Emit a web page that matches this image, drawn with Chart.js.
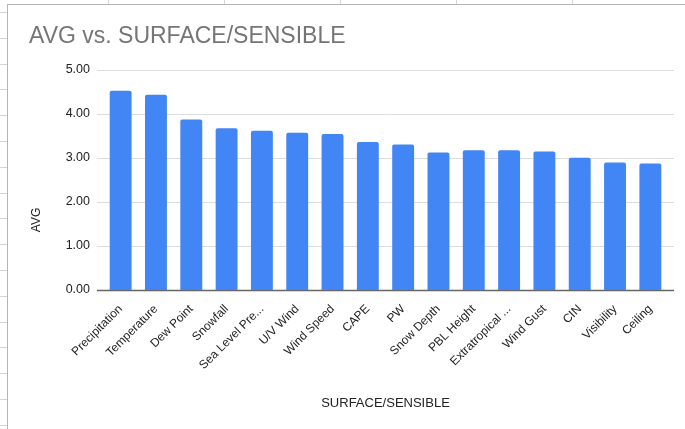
<!DOCTYPE html>
<html>
<head>
<meta charset="utf-8">
<script src="https://cdn.jsdelivr.net/npm/chart.js@4/dist/chart.umd.min.js"></script>
<style>
  html, body { margin: 0; padding: 0; background: #fff; }
  body { width: 685px; height: 429px; position: relative; overflow: hidden; }
  /* spreadsheet cells peeking out round the chart box */
  .cols { position: absolute; left: 0; top: 0; width: 685px; height: 4px;
    background: repeating-linear-gradient(to right, transparent 0 108px, #d4d4d4 108px 109px, transparent 109px 116px);
    background-position: 0 0; }
  .rows { position: absolute; left: 0; top: 4px; width: 7px; height: 425px;
    background: repeating-linear-gradient(to bottom, transparent 0 8px, #d4d4d4 8px 9px, transparent 9px 25.8px); }
  .box { position: absolute; left: 7px; top: 4px; width: 678px; height: 425px;
    border-left: 1px solid #b5b5b5; border-top: 1px solid #b5b5b5; background: #fff; }
  #chart { position: absolute; left: 0; top: 0; }
</style>
</head>
<body>
<div class="cols"></div>
<div class="rows"></div>
<div class="box"></div>
<canvas id="chart" width="685" height="429"></canvas>
<script>
const categories = ['Precipitation', 'Temperature', 'Dew Point', 'Snowfall', 'Sea Level Pre...',
  'U/V Wind', 'Wind Speed', 'CAPE', 'PW', 'Snow Depth', 'PBL Height', 'Extratropical ...',
  'Wind Gust', 'CIN', 'Visibility', 'Ceiling'];
const avgValues = [4.52, 4.43, 3.87, 3.67, 3.61, 3.57, 3.54, 3.36, 3.30, 3.12, 3.17, 3.17,
  3.14, 3.00, 2.89, 2.87];
const yTicks = [0, 1, 2, 3, 4, 5];

Chart.defaults.font.family = "'Liberation Sans', Arial, sans-serif";
Chart.defaults.color = '#222';

// gridlines in Sheets run a few px past the bars on both sides
const sheetGrid = {
  id: 'sheetGrid',
  beforeDatasetsDraw(chart) {
    const { ctx, chartArea, scales: { y } } = chart;
    ctx.save();
    y.ticks.forEach(t => {
      const py = Math.round(y.getPixelForValue(t.value)) + 0.5;
      ctx.strokeStyle = t.value === 0 ? '#666' : '#dcdcdc';
      ctx.lineWidth = t.value === 0 ? 1.3 : 1;
      ctx.beginPath();
      ctx.moveTo(chartArea.left - 6, py);
      ctx.lineTo(chartArea.right + 6, py);
      ctx.stroke();
    });
    ctx.restore();
  },
  afterDraw(chart) {
    const { ctx } = chart;
    ctx.save();
    ctx.translate(37, 220);
    ctx.rotate(-Math.PI / 2);
    ctx.font = "12px 'Liberation Sans', Arial, sans-serif";
    ctx.fillStyle = '#222';
    ctx.textAlign = 'center';
    ctx.textBaseline = 'middle';
    ctx.fillText('AVG', 0, 0);
    ctx.restore();
  }
};

new Chart(document.getElementById('chart'), {
  type: 'bar',
  data: {
    labels: categories,
    datasets: [{
      label: 'AVG',
      data: avgValues,
      backgroundColor: '#4285f4',
      borderRadius: { topLeft: 2, topRight: 2 },
      borderSkipped: 'start',
      categoryPercentage: 1,
      barPercentage: 0.62,
    }]
  },
  options: {
    responsive: false,
    animation: false,
    layout: { padding: { left: 29, right: 17, top: 0, bottom: 0 } },
    plugins: {
      legend: { display: false },
      tooltip: { enabled: false },
      title: {
        display: true,
        text: 'AVG vs. SURFACE/SENSIBLE',
        align: 'start',
        color: '#757575',
        font: { size: 23, weight: 'normal' },
        padding: { top: 23, bottom: 19 }
      }
    },
    scales: {
      y: {
        min: 0, max: 5,
        afterBuildTicks: s => { s.ticks = yTicks.map(v => ({ value: v })); },
        afterFit: s => { s.width = 74; },
        border: { display: false },
        grid: { display: false },
        ticks: {
          padding: 5,
          color: '#222',
          font: { size: 12.5 },
          callback: v => v.toFixed(2)
        }
      },
      x: {
        afterFit: s => { s.height = 139; },
        border: { display: false },
        grid: { display: false },
        ticks: {
          autoSkip: false,
          minRotation: 45,
          maxRotation: 45,
          padding: 4,
          color: '#222',
          font: { size: 12 }
        },
        title: {
          display: true,
          text: 'SURFACE/SENSIBLE',
          color: '#222',
          font: { size: 13 },
          padding: { top: 0, bottom: 18 }
        }
      }
    }
  },
  plugins: [sheetGrid]
});
</script>
</body>
</html>
